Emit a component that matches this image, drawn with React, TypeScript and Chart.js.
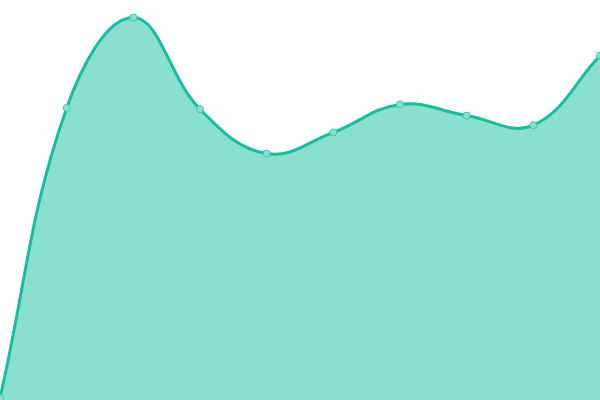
import { useEffect, useRef } from 'react'
import { Chart, registerables } from 'chart.js'
Chart.register(...registerables)

const labels = ['1', '2', '3', '4', '5', '6', '7', '8', '9', '10']
const values = [0.5, 73, 95.6, 72.7, 61.6, 66.9, 73.9, 71.1, 68.7, 86.1]

export default function App() {
  const ref = useRef<HTMLCanvasElement>(null)

  useEffect(() => {
    document.body.style.margin = '0'
    if (!ref.current) return
    const chart = new Chart(ref.current, {
      type: 'line',
      data: {
        labels,
        datasets: [{
          data: values,
          borderColor: '#1abc9c',
          borderWidth: 3,
          backgroundColor: '#8ae0cf',
          fill: 'origin',
          tension: 0.4,
          pointRadius: 3.5,
          pointBackgroundColor: '#8ae0cf',
          pointBorderColor: '#3ec8aa',
          pointBorderWidth: 1,
        }],
      },
      options: {
        animation: false,
        responsive: true,
        maintainAspectRatio: false,
        layout: { padding: 0, autoPadding: false },
        plugins: { legend: { display: false }, tooltip: { enabled: false } },
        scales: {
          x: { display: false, offset: false },
          y: { display: false, min: 0, max: 100 },
        },
      },
    })
    return () => chart.destroy()
  }, [])

  return (
    <div style={{ position: 'fixed', left: 0, top: 0, width: 600, height: 400 }}>
      <canvas ref={ref} />
    </div>
  )
}
